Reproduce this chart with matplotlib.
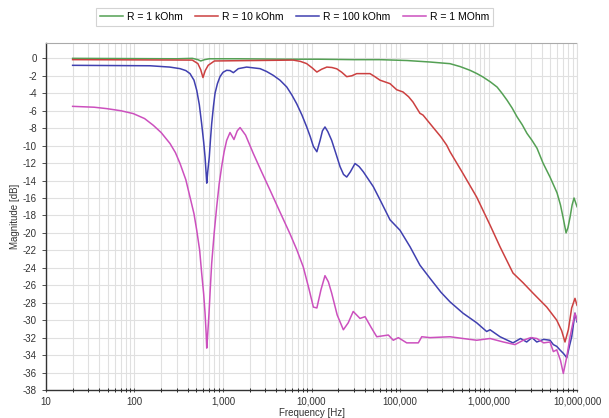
import matplotlib
matplotlib.use("Agg")
import matplotlib.pyplot as plt
from matplotlib.ticker import FixedLocator, LogLocator, NullFormatter

plt.rcParams["font.family"] = ["Liberation Sans", "DejaVu Sans"]

# Frequency response
f_1k = [20, 300, 450, 520, 560, 620, 700, 1500, 5000, 12000, 30000, 59400,
        120000, 218000, 367000, 480000, 618000, 740000, 867000, 1050000,
        1250000, 1420000, 1620000, 1850000, 2100000, 2400000, 2720000,
        3100000, 3530000, 4130000, 4950000, 5940000, 6500000, 6950000,
        7520000, 7900000, 8340000, 8800000, 9250000, 10000000]
db_1k = [0.0, -0.05, 0.0, -0.15, -0.3, -0.15, -0.05, -0.05, -0.1, -0.1, -0.15, -0.15,
         -0.25, -0.42, -0.61, -0.95, -1.37, -1.75, -2.14, -2.7,
         -3.29, -4.0, -4.8, -5.7, -6.7, -7.6, -8.6,
         -9.4, -10.3, -12.0, -13.6, -15.4, -16.8, -18.2,
         -20.0, -19.4, -18.2, -16.8, -16.0, -17.0]

f_10k = [20, 450, 520, 560, 594, 630, 680, 800, 6200, 7500, 8800, 10200, 11500,
         13000, 14900, 17000, 19300, 22000, 25000, 28500, 32400, 45800, 52000,
         59400, 77100, 91800, 108000, 125000, 140000, 168000, 182000,
         236000, 290000, 337000, 367000, 515000, 735000, 1040000, 1350000,
         1890000, 2450000, 3180000, 4550000, 5900000, 6700000, 7310000,
         7980000, 8700000, 9480000, 10000000]
db_10k = [-0.15, -0.2, -0.6, -1.3, -2.2, -1.4, -0.8, -0.3, -0.2, -0.35, -0.6, -1.1, -1.57,
          -1.25, -1.0, -1.05, -1.2, -1.6, -2.1, -2.0, -1.75, -1.75, -2.1,
          -2.5, -2.9, -3.6, -3.85, -4.4, -5.0, -6.3, -6.5,
          -7.9, -9.0, -9.95, -10.7, -13.2, -15.9, -19.1, -21.6,
          -24.6, -25.7, -26.9, -28.5, -30.0, -31.2, -32.5,
          -31.1, -28.6, -27.5, -28.3]

f_100k = [20, 150, 250, 327, 380, 424, 470, 505, 540, 574, 605, 627, 645, 655,
          672, 700, 722, 745, 780, 813, 865, 925, 1000, 1100, 1200, 1310,
          1490, 1850, 2620, 3100, 3700, 4400, 5250, 6000, 6800, 7800, 8830,
          9700, 10500, 11500, 12500, 13300, 14200, 15300, 16900, 19000, 21000,
          23000, 25000, 27500, 31000, 34500, 38500, 49900, 59400, 77100,
          100000, 130000, 168000, 218000, 290000, 367000, 515000, 735000,
          953000, 1040000, 1350000, 1890000, 2300000, 2700000, 3100000,
          3510000, 4200000, 4950000, 5400000, 5900000, 6400000, 7000000,
          7660000, 8200000, 8710000, 9480000, 10000000]
db_100k = [-0.8, -0.85, -1.0, -1.18, -1.4, -1.75, -2.5, -3.66, -5.3, -7.5, -9.6,
           -11.3, -13.2, -14.3, -13.0, -11.3, -9.3, -7.5, -5.5, -4.0, -2.9, -2.1,
           -1.6, -1.37, -1.4, -1.64, -1.18, -1.0, -1.18, -1.5, -1.95, -2.5,
           -3.28, -4.2, -5.2, -6.5, -7.86, -9.0, -10.1, -10.7, -9.4, -8.3,
           -7.86, -8.4, -9.4, -11.0, -12.4, -13.3, -13.6, -13.0, -12.05, -12.4,
           -13.0, -14.7, -16.2, -18.5, -19.7, -21.6, -23.7, -25.2, -26.8, -27.9,
           -29.2, -30.3, -31.3, -31.1, -31.9, -32.6, -32.1, -32.5, -32.0,
           -32.5, -32.2, -32.3, -32.8, -33.0, -33.4, -33.8, -34.3, -33.0,
           -31.9, -29.2, -30.2]

f_1M = [20, 35, 48.5, 70, 96.8, 130, 163, 200, 252, 290, 327, 380, 424, 470,
        505, 545, 574, 605, 627, 645, 655, 668, 695, 720, 745, 795, 849, 905,
        966, 1030, 1100, 1200, 1330, 1450, 1560, 1800, 2200, 2700, 3400, 4400,
        5710, 6800, 8070, 9300, 10500, 11500, 12800, 14200, 15500, 16900,
        19500, 22900, 26000, 29600, 35300, 40300, 47000, 54600, 73800, 83900,
        95700, 119000, 161000, 176000, 218000, 367000, 515000, 735000,
        1040000, 1470000, 1990000, 2470000, 3000000, 3510000, 4200000,
        4950000, 5400000, 5900000, 6500000, 7000000, 7660000, 8340000,
        9480000, 10000000]
db_1M = [-5.5, -5.6, -5.76, -6.0, -6.33, -6.9, -7.67, -8.5, -9.76, -10.8, -12.05,
         -13.9, -15.9, -17.8, -19.7, -22.0, -24.6, -27.0, -29.2, -31.5, -33.2,
         -32.0, -29.2, -26.2, -23.5, -20.0, -17.0, -14.4, -12.4, -10.7, -9.4,
         -8.5, -9.3, -8.3, -7.93, -8.8, -10.9, -12.9, -15.1, -17.6,
         -20.1, -21.9, -23.9, -26.3, -28.5, -28.6, -26.5, -24.9, -25.6, -26.9,
         -29.4, -31.1, -30.3, -29.0, -29.8, -29.6, -30.8, -31.9, -31.7, -32.3,
         -32.0, -32.6, -32.6, -31.9, -32.0, -31.9, -32.1, -32.3, -32.1, -32.5,
         -32.8, -32.3, -32.0, -32.1, -32.6, -32.5, -33.6, -33.4, -34.6, -36.1,
         -34.2, -31.9, -29.2, -30.0]

x_ticks = [10, 100, 1000, 10000, 100000, 1000000, 10000000]
x_labels = ["10", "100", "1,000", "10,000", "100,000", "1,000,000", "10,000,000"]
y_ticks = list(range(0, -39, -2))

fig = plt.figure(figsize=(6.09, 4.18), dpi=100)
ax = fig.add_axes([0.0755, 0.067, 0.872, 0.831])

ax.plot(f_1k, db_1k, color="#54a054", lw=1.1, label="R = 1 kOhm")
ax.plot(f_10k, db_10k, color="#cc4040", lw=1.1, label="R = 10 kOhm")
ax.plot(f_100k, db_100k, color="#4040b0", lw=1.1, label="R = 100 kOhm")
ax.plot(f_1M, db_1M, color="#cc50be", lw=1.1, label="R = 1 MOhm")

ax.set_xscale("log")
ax.set_xlim(10, 10000000)
ax.set_ylim(-38, 1.8)
ax.xaxis.set_major_locator(FixedLocator(x_ticks))
ax.set_xticklabels(x_labels)
ax.xaxis.set_minor_locator(LogLocator(base=10, subs=range(2, 10), numticks=20))
ax.xaxis.set_minor_formatter(NullFormatter())
ax.set_yticks(y_ticks)
ax.set_yticklabels([str(v) for v in y_ticks])

ax.grid(True, which="both", axis="x", color="#e0e0e0", lw=0.8)
ax.grid(True, which="major", axis="y", color="#e0e0e0", lw=0.8)
ax.set_axisbelow(True)

ax.tick_params(axis="both", labelsize=7, colors="#333333", length=3, width=0.6)
ax.tick_params(axis="x", which="both", direction="inout")
ax.tick_params(axis="x", which="minor", length=3)
ax.spines["left"].set_color("#333333")
ax.spines["bottom"].set_color("#333333")
ax.spines["left"].set_linewidth(1.0)
ax.spines["bottom"].set_linewidth(1.0)
ax.spines["right"].set_color("#e0e0e0")
ax.spines["top"].set_color("#aaaaaa")
ax.spines["top"].set_linestyle((0, (1, 1)))

ax.set_xlabel("Frequency [Hz]", fontsize=7, color="#333333", labelpad=1)
ax.set_ylabel("Magnitude [dB]", fontsize=7, color="#333333", labelpad=2)

leg = fig.legend(loc="center", bbox_to_anchor=(294.5 / 609, 1 - 17 / 418), ncol=4,
                 fontsize=7.5, frameon=True, fancybox=False, edgecolor="#c8c8c8",
                 handlelength=2.2, columnspacing=1.2, borderpad=0.35,
                 handletextpad=0.4)
leg.get_frame().set_linewidth(0.8)

fig.savefig("out.png", dpi=100)
